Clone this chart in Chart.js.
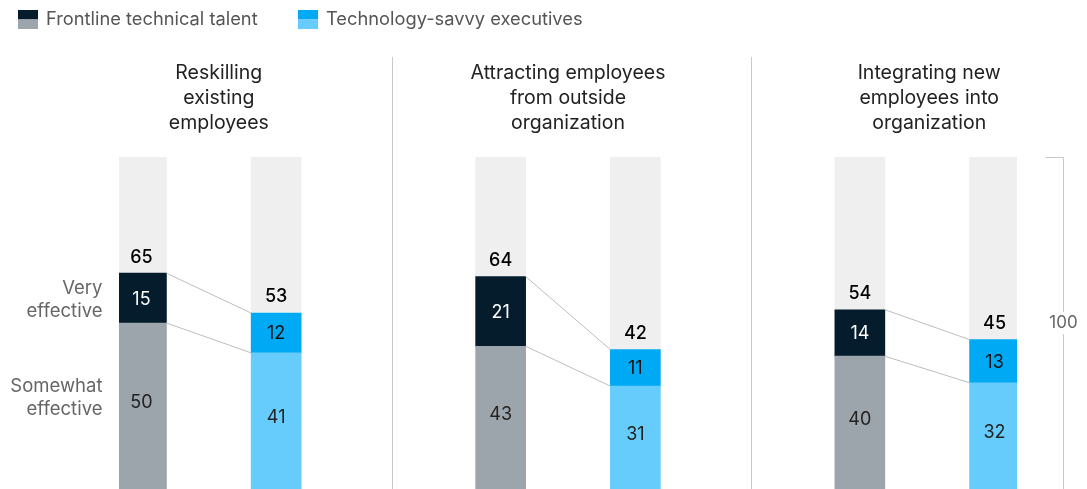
<!DOCTYPE html>
<html>
<head>
<meta charset="utf-8">
<script src="https://cdn.jsdelivr.net/npm/chart.js@4.4.1/dist/chart.umd.min.js"></script>
<style>
    html, body { margin: 0; padding: 0; background: #fff; }
    #wrap { width: 1087px; height: 489px; position: relative; }
</style>
</head>
<body>
<div id="wrap"><canvas id="effectChart"></canvas></div>
<script>
"use strict";

// Share of respondents (%) rating each approach effective
var panelTitles = [
    ["Reskilling", "existing", "employees"],
    ["Attracting employees", "from outside", "organization"],
    ["Integrating new", "employees into", "organization"]
];
var seriesNames = ["Frontline technical talent", "Technology-savvy executives"];
var frontlineVery = [15, 21, 14];
var frontlineSomewhat = [50, 43, 40];
var executivesVery = [12, 11, 13];
var executivesSomewhat = [41, 31, 32];
var scaleTotal = 100;

// Layout: bars sit in a 20-slot category axis
var slotCount = 20;
var frontlineSlots = [0, 8, 16];
var executiveSlots = [3, 11, 19];
var titleShift = [10, 0, 2];

var colors = {
    frontlineVery: "#051C2C",
    frontlineSomewhat: "#9DA5AC",
    executivesVery: "#00A9F4",
    executivesSomewhat: "#66CCFB",
    rest: "#EFEFEF",
    rule: "#C9C9C9",
    connector: "#BDBDBD"
};

var fontFamily = "Inter, 'Liberation Sans', Arial, sans-serif";

function emptySlots() {
    var arr = [];
    for (let i = 0; i < slotCount; i++) arr.push(null);
    return arr;
}

// Build per-slot data and colors
var somewhatData = emptySlots(), veryData = emptySlots(), restData = emptySlots();
var somewhatColors = emptySlots(), veryColors = emptySlots();

for (let p = 0; p < panelTitles.length; p++) {
    var f = frontlineSlots[p], e = executiveSlots[p];
    somewhatData[f] = frontlineSomewhat[p];
    veryData[f] = frontlineVery[p];
    restData[f] = scaleTotal - frontlineSomewhat[p] - frontlineVery[p];
    somewhatColors[f] = colors.frontlineSomewhat;
    veryColors[f] = colors.frontlineVery;

    somewhatData[e] = executivesSomewhat[p];
    veryData[e] = executivesVery[p];
    restData[e] = scaleTotal - executivesSomewhat[p] - executivesVery[p];
    somewhatColors[e] = colors.executivesSomewhat;
    veryColors[e] = colors.executivesVery;
}

var labels = [];
for (let i = 0; i < slotCount; i++) labels.push("s" + i);

// Dividers between panels, drawn under the bars
var dividerPlugin = {
    id: "dividers",
    beforeDatasetsDraw: function (chart) {
        var ctx = chart.ctx;
        var x = chart.scales.x;
        var slotW = (x.getPixelForValue(1) - x.getPixelForValue(0));
        ctx.save();
        ctx.strokeStyle = colors.rule;
        ctx.lineWidth = 1;
        for (let p = 0; p < panelTitles.length - 1; p++) {
            var px = Math.round(x.getPixelForValue(executiveSlots[p]) + slotW * 2.57) + 0.5;
            ctx.beginPath();
            ctx.moveTo(px, 57);
            ctx.lineTo(px, chart.chartArea.bottom);
            ctx.stroke();
        }
        ctx.restore();
    }
};

// Connectors, value labels, titles, side labels, legend and 100 bracket
var annotationPlugin = {
    id: "annotations",
    afterDatasetsDraw: function (chart) {
        var ctx = chart.ctx;
        var yScale = chart.scales.y;
        var somewhatMeta = chart.getDatasetMeta(0);
        var veryMeta = chart.getDatasetMeta(1);

        ctx.save();

        // Connector lines between the two bars of each panel
        ctx.strokeStyle = colors.connector;
        ctx.lineWidth = 1;
        for (let p = 0; p < panelTitles.length; p++) {
            var f = frontlineSlots[p], e = executiveSlots[p];
            var fv = veryMeta.data[f], ev = veryMeta.data[e];
            var fs = somewhatMeta.data[f], es = somewhatMeta.data[e];
            ctx.beginPath();
            ctx.moveTo(fv.x + fv.width / 2, fv.y);
            ctx.lineTo(ev.x - ev.width / 2, ev.y);
            ctx.moveTo(fs.x + fs.width / 2, fs.y);
            ctx.lineTo(es.x - es.width / 2, es.y);
            ctx.stroke();
        }

        // Segment values and totals
        ctx.textAlign = "center";
        ctx.textBaseline = "middle";
        for (let i = 0; i < slotCount; i++) {
            if (somewhatData[i] === null) continue;
            var s = somewhatMeta.data[i], v = veryMeta.data[i];
            var dark = veryColors[i] === colors.frontlineVery;

            ctx.font = "18px " + fontFamily;
            ctx.fillStyle = "#222";
            ctx.fillText(String(somewhatData[i]), s.x, (s.y + s.base) / 2 - 3);

            ctx.fillStyle = dark ? "#FFFFFF" : "#111";
            ctx.fillText(String(veryData[i]), v.x, (v.y + v.base) / 2 + 1);

            ctx.fillStyle = "#000";
            ctx.font = "500 18px " + fontFamily;
            ctx.fillText(String(somewhatData[i] + veryData[i]), v.x, v.y - 16);
        }

        // Panel titles
        ctx.fillStyle = "#222";
        ctx.font = "19.5px " + fontFamily;
        for (let p = 0; p < panelTitles.length; p++) {
            var cx = (veryMeta.data[frontlineSlots[p]].x + veryMeta.data[executiveSlots[p]].x) / 2 + titleShift[p];
            for (let l = 0; l < panelTitles[p].length; l++) {
                ctx.fillText(panelTitles[p][l], cx, 73 + l * 25);
            }
        }

        // Side labels next to the first bar
        var first = frontlineSlots[0];
        var leftEdge = veryMeta.data[first].x - veryMeta.data[first].width / 2 - 14;
        ctx.textAlign = "right";
        ctx.fillStyle = "#666";
        ctx.font = "18.5px " + fontFamily;
        var veryMid = yScale.getPixelForValue(frontlineSomewhat[0] + frontlineVery[0] / 2);
        ctx.fillText("Very", leftEdge, veryMid - 10);
        ctx.fillText("effective", leftEdge, veryMid + 13);
        var someMid = yScale.getPixelForValue(frontlineSomewhat[0] / 2 + 2.5);
        ctx.fillText("Somewhat", leftEdge, someMid - 11);
        ctx.fillText("effective", leftEdge, someMid + 12);

        // 100 bracket on the right
        var last = veryMeta.data[executiveSlots[executiveSlots.length - 1]];
        var bx = Math.round(last.x + last.width / 2 + 43) + 0.5;
        var yTop = Math.round(yScale.getPixelForValue(scaleTotal)) + 0.5;
        var yBot = yScale.getPixelForValue(0);
        var yMid = yScale.getPixelForValue(scaleTotal / 2);
        ctx.strokeStyle = colors.rule;
        ctx.beginPath();
        ctx.moveTo(bx - 18, yTop);
        ctx.lineTo(bx, yTop);
        ctx.lineTo(bx, yMid - 11);
        ctx.moveTo(bx, yMid + 11);
        ctx.lineTo(bx, yBot);
        ctx.stroke();
        ctx.textAlign = "center";
        ctx.fillStyle = "#666";
        ctx.font = "17px " + fontFamily;
        ctx.fillText(String(scaleTotal), bx, yMid);

        // Legend with split swatches
        var legendX = [18, 298];
        var swatches = [
            [colors.frontlineVery, colors.frontlineSomewhat],
            [colors.executivesVery, colors.executivesSomewhat]
        ];
        ctx.textAlign = "left";
        ctx.font = "18.3px " + fontFamily;
        for (let k = 0; k < seriesNames.length; k++) {
            ctx.fillStyle = swatches[k][0];
            ctx.fillRect(legendX[k], 10, 20, 9.5);
            ctx.fillStyle = swatches[k][1];
            ctx.fillRect(legendX[k], 19.5, 20, 9.5);
            ctx.fillStyle = "#555";
            ctx.fillText(seriesNames[k], legendX[k] + 28, 20);
        }

        ctx.restore();
    }
};

window.onload = function () {
    var config = {
        type: "bar",
        data: {
            labels: labels,
            datasets: [
                { label: "Somewhat effective", data: somewhatData, backgroundColor: somewhatColors },
                { label: "Very effective", data: veryData, backgroundColor: veryColors },
                { label: "Rest", data: restData, backgroundColor: colors.rest }
            ]
        },
        options: {
            responsive: true,
            maintainAspectRatio: false,
            animation: false,
            layout: { padding: { left: 119, right: 70, top: 157, bottom: 0 } },
            datasets: { bar: { barThickness: 50, borderWidth: 0, borderSkipped: false } },
            scales: {
                x: { stacked: true, display: false },
                y: { stacked: true, display: false, min: 0, max: scaleTotal }
            },
            plugins: {
                legend: { display: false },
                tooltip: { enabled: false }
            }
        },
        plugins: [dividerPlugin, annotationPlugin]
    };

    var ctx = document.getElementById("effectChart").getContext("2d");
    new Chart(ctx, config);
};
</script>
</body>
</html>
